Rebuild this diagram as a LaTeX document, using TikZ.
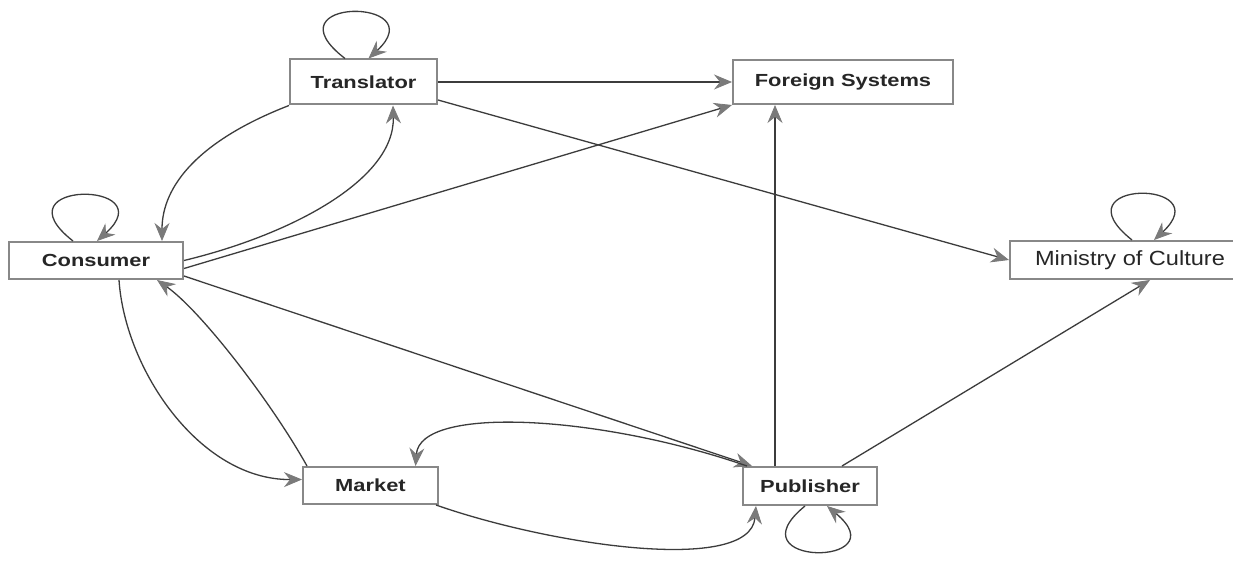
\documentclass[tikz,border=0pt]{standalone}
\usepackage{fontspec}
\usetikzlibrary{arrows.meta}
\newfontfamily\labfont{Liberation Sans Bold}[FakeStretch=1.25]
\newfontfamily\minfont{Liberation Sans}[FakeStretch=1.15]
\definecolor{edgecol}{HTML}{3C3C3C}
\definecolor{boxcol}{HTML}{888888}
\definecolor{tipcol}{HTML}{7A7A7A}
\begin{document}
\begin{tikzpicture}[x=1pt,y=-1pt,
  box/.style={draw=boxcol,line width=2pt,fill=white,inner sep=0pt,
    font=\labfont\fontsize{17.5}{20}\selectfont,text=black!85},
  conn/.style={draw=edgecol,line width=1.3pt,
    -{Stealth[length=18pt,width=15pt,inset=6pt,fill=tipcol,color=tipcol,line width=0.8pt]}}]
\clip (0,0) rectangle (1233,577);
\fill[white] (0,0) rectangle (1233,577);
\node[box,minimum width=147pt,minimum height=45pt] (T) at (363.5,82) {Translator};
\node[box,minimum width=220pt,minimum height=44pt] (F) at (843,82) {Foreign Systems};
\node[box,minimum width=174pt,minimum height=37pt] (C) at (96,260.5) {Consumer};
\node[box,minimum width=240pt,minimum height=38pt,font=\minfont\fontsize{20.5}{22}\selectfont] (MC) at (1130,260) {Ministry of Culture};
\node[box,minimum width=135pt,minimum height=37pt] (K) at (370.5,485.5) {Market};
\node[box,minimum width=134pt,minimum height=38pt] (P) at (810,486) {Publisher};
% straight connectors
\draw[conn] (T.east) -- (F.west);
\draw[conn] ([yshift=-18pt]T.east) -- (MC.west);
\draw[conn] ([yshift=-8pt]C.east) -- (F.south west);
\draw[conn] ([yshift=4pt]C.south east) -- ([xshift=10pt]P.north west);
\draw[conn] ([xshift=-35pt]P.north) -- ([xshift=-68pt]F.south);
\draw[conn] ([xshift=32pt]P.north) -- ([xshift=20pt]MC.south);
% curved connectors
\draw[conn] (T.south west) .. controls (200,140) and (162,185) .. ([xshift=66pt]C.north);
\draw[conn] (C.east) .. controls (290,235) and (395,180) .. ([xshift=29.5pt]T.south);
\draw[conn] ([xshift=23pt]C.south) .. controls (125,370) and (200,480) .. ([yshift=6pt]K.west);
\draw[conn] ([xshift=5pt]K.north west) .. controls (270,400) and (200,310) .. ([xshift=61pt]C.south);
\draw[conn] ([xshift=5pt]P.north west) .. controls (600,415) and (420,405) .. ([xshift=45pt]K.north);
\draw[conn] ([xshift=-3pt]K.south east) .. controls (550,545) and (750,575) .. ([xshift=14pt]P.south west);
% self loops
\draw[conn] ([xshift=-18.5pt]T.north) .. controls (265,-3) and (435,-3) .. ([xshift=5pt]T.north);
\draw[conn] ([xshift=-23pt]C.north) .. controls (-5,180) and (165,180) .. ([xshift=1pt]C.north);
\draw[conn] ([xshift=2pt]MC.north) .. controls (1055,179) and (1220,179) .. ([xshift=24pt]MC.north);
\draw[conn] ([xshift=-5pt]P.south) .. controls (730,567) and (900,567) .. ([xshift=17pt]P.south);
\end{tikzpicture}
\end{document}
